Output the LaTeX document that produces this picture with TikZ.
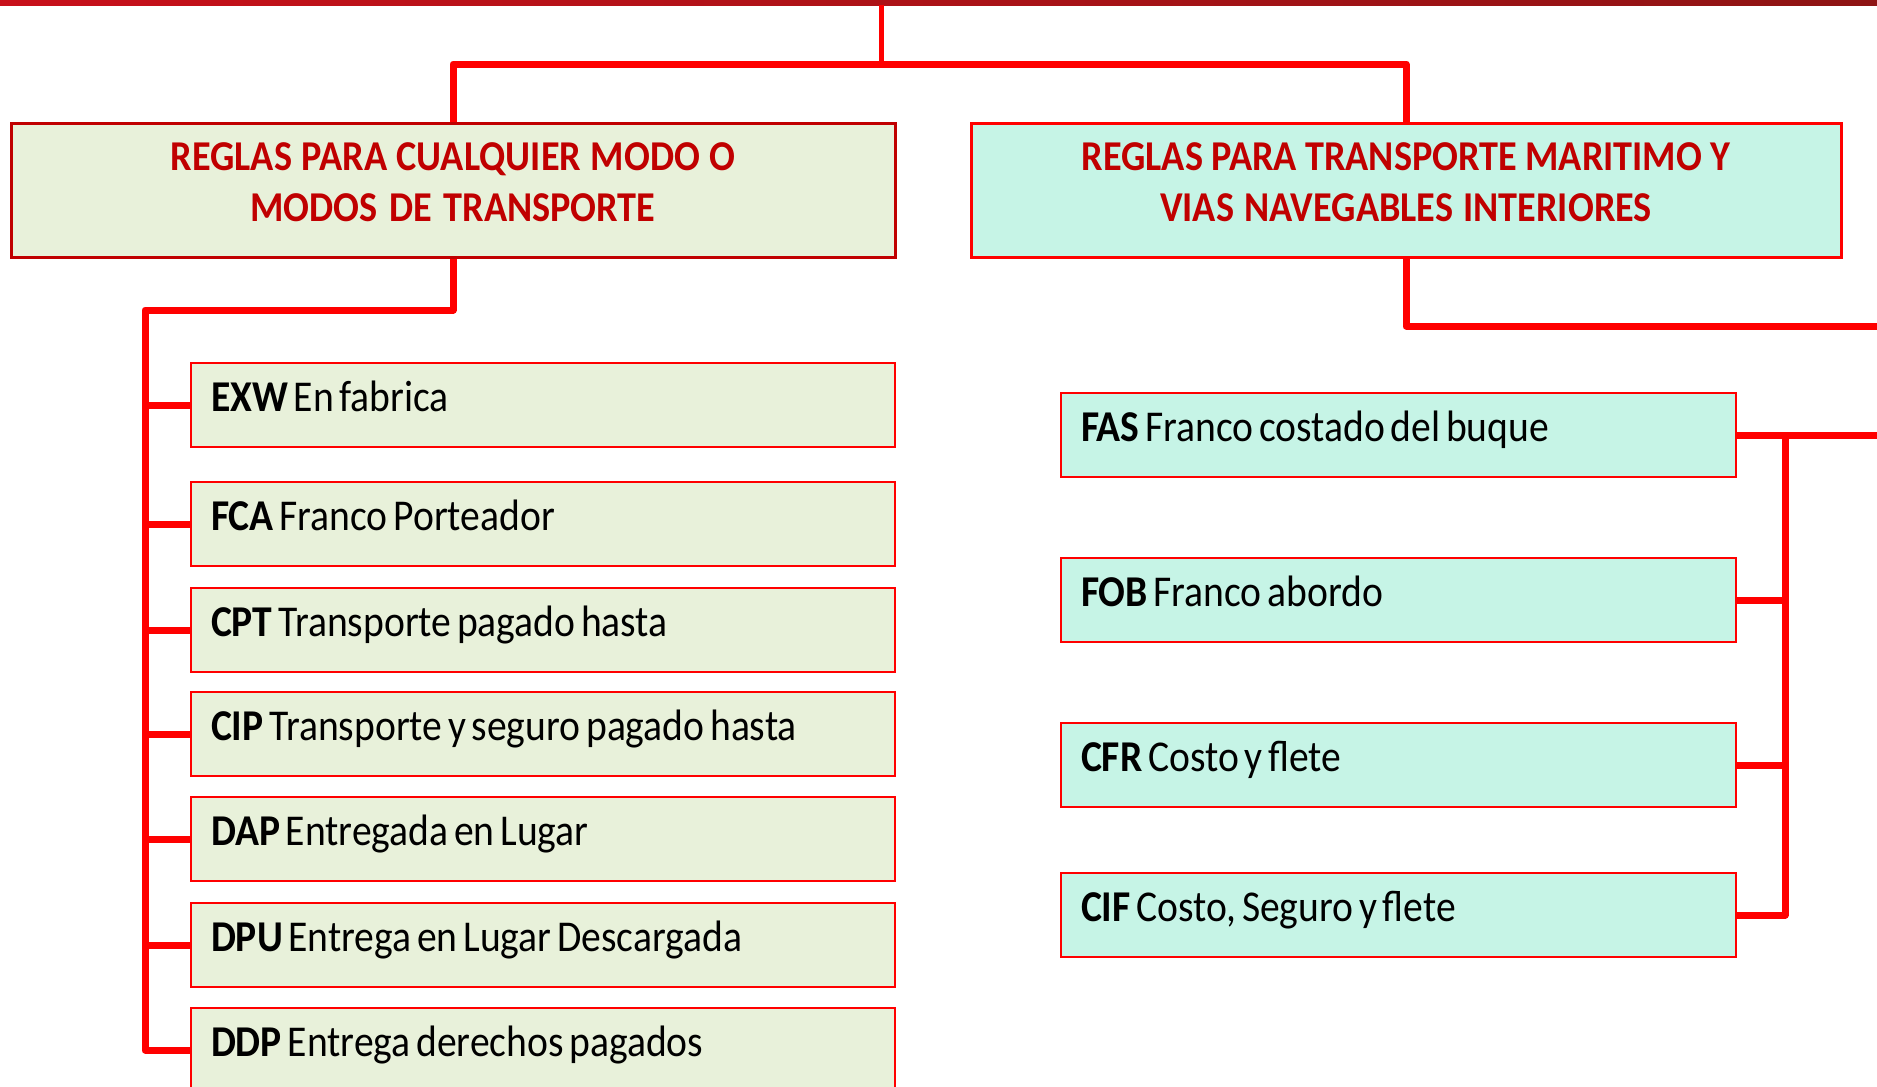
\documentclass[tikz,border=0pt]{standalone}
\usepackage{fontspec}
\setmainfont{Carlito}[FakeStretch=0.9]
\definecolor{lnred}{HTML}{FF0000}
\definecolor{dkred}{HTML}{C00000}
\definecolor{barA}{HTML}{C8101A}
\definecolor{barB}{HTML}{8E1414}
\definecolor{fillL}{HTML}{E8F1DA}
\definecolor{fillR}{HTML}{C6F4E6}
\newcommand{\hdrfont}{\fontsize{42.5}{51}\selectfont\bfseries}
\newcommand{\itemfont}{\fontsize{44}{48}\selectfont}
\newcommand{\tightsp}{\spaceskip=0.13em plus 0.05em\relax}
\begin{document}
\begin{tikzpicture}[x=1pt,y=-1pt,
  conn/.style={draw=lnred,line width=7pt,line join=round},
  hdr/.style={rectangle,inner sep=0pt,align=center,text=dkred,
    font=\hdrfont,execute at begin node=\tightsp,
    text height=47pt,text depth=87pt},
  hdrL/.style={hdr,fill=fillL,draw=dkred,line width=3pt,text width=884pt},
  hdrR/.style={hdr,fill=fillR,draw=lnred,line width=3pt,text width=870pt},
  item/.style={rectangle,inner xsep=20pt,inner ysep=0pt,align=left,draw=lnred,line width=2pt,
    font=\itemfont,execute at begin node=\tightsp,
    text height=48pt,text depth=36pt},
  itemL/.style={item,fill=fillL,text width=664pt},
  itemR/.style={item,fill=fillR,text width=635pt},
  topbar/.style={rectangle,inner sep=0pt,minimum width=1877pt,minimum height=5pt,left color=barA,right color=barB,draw=none}
]
\useasboundingbox (0,0) rectangle (1877,1087);
\node[topbar] (top) at (938.5,2.5) {};

\node[hdrL] (h1) at (453,190) {REGLAS PARA CUALQUIER MODO O\\MODOS DE TRANSPORTE};
\node[hdrR] (h2) at (1406,190) {REGLAS PARA TRANSPORTE MARITIMO Y\\VIAS NAVEGABLES INTERIORES};

\node[itemL] (exw) at (543,405) {{\bfseries EXW} En fabrica};
\node[itemL] (fca) at (543,524) {{\bfseries FCA} Franco Porteador};
\node[itemL] (cpt) at (543,630) {{\bfseries CPT} Transporte pagado hasta};
\node[itemL] (cip) at (543,734) {{\bfseries CIP} Transporte y seguro pagado hasta};
\node[itemL] (dap) at (543,839) {{\bfseries DAP} Entregada en Lugar};
\node[itemL] (dpu) at (543,945) {{\bfseries DPU} Entrega en Lugar Descargada};
\node[itemL] (ddp) at (543,1050) {{\bfseries DDP} Entrega derechos pagados};

\node[itemR] (fas) at (1398.5,435) {{\bfseries FAS} Franco costado del buque};
\node[itemR] (fob) at (1398.5,600) {{\bfseries FOB} Franco abordo};
\node[itemR] (cfr) at (1398.5,765) {{\bfseries CFR} Costo y flete};
\node[itemR] (cif) at (1398.5,915) {{\bfseries CIF} Costo, Seguro y flete};

\coordinate (hub) at (881,64);
\coordinate (ltr) at (145,310);
\coordinate (rtr) at (1785,435);
\coordinate (redgeA) at (1877,326);
\coordinate (redgeB) at (1877,435);

\draw[conn,line width=5pt] (top.south -| hub) -- (hub);
\draw[conn] (h1.north) |- (hub) -| (h2.north);
\draw[conn] (h1.south) |- (ltr) -- (ltr |- ddp.west) -- (ddp.west);
\foreach \n in {exw,fca,cpt,cip,dap,dpu}
  \draw[conn] (ltr |- \n.west) -- (\n.west);
\draw[conn] (h2.south) |- (redgeA);
\draw[conn] (fas.east) -- (redgeB);
\draw[conn] (rtr) |- (cif.east);
\foreach \n in {fob,cfr}
  \draw[conn] (rtr |- \n.east) -- (\n.east);
\end{tikzpicture}
\end{document}
